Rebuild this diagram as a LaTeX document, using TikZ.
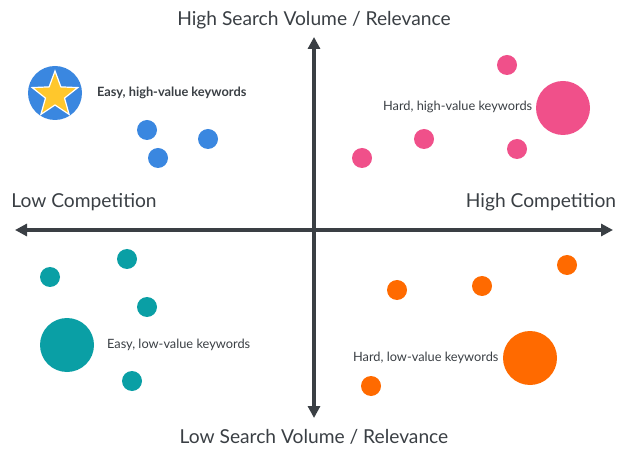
\documentclass[tikz,border=0pt]{standalone}
\usepackage{fontspec}
\setmainfont{Lato}
\usetikzlibrary{arrows.meta,shapes.geometric}
\definecolor{axisgray}{HTML}{3A3F44}
\definecolor{kwblue}{HTML}{3A87E0}
\definecolor{kwpink}{HTML}{F0508A}
\definecolor{kwteal}{HTML}{0A9FA5}
\definecolor{kworange}{HTML}{FF6A00}
\definecolor{kwstar}{HTML}{FFC72C}
\tikzset{
  dot/.style={circle, fill=#1, inner sep=0pt, minimum size=10pt},
  bigdot/.style={circle, fill=#1, inner sep=0pt, minimum size=27pt},
  axislbl/.style={font=\fontsize{9.6}{11}\selectfont, text=axisgray},
  kwlbl/.style={font=\fontsize{6.4}{7}\selectfont, text=axisgray, anchor=west},
  axis/.style={line width=1.6pt, draw=axisgray, {Triangle[length=6pt,width=6pt]}-{Triangle[length=6pt,width=6pt]}}
}
\begin{document}
\begin{tikzpicture}[x=0.5pt,y=-0.5pt]
				\useasboundingbox (0,0) rectangle (640,453);
				
				\coordinate (west) at (15,230);
				\coordinate (east) at (613,230);
				\coordinate (north) at (314,37);
				\coordinate (south) at (314,418);
				\draw[axis] (west) -- (east);
				\draw[axis] (north) -- (south);
				
				\node[axislbl] (lblTop) at (314,20) {High Search Volume / Relevance};
				\node[axislbl] (lblBot) at (314,437) {Low Search Volume / Relevance};
				\node[axislbl] (lblLow) at (84,202) {Low Competition};
				\node[axislbl] (lblHigh) at (541,202) {High Competition};
				
				% easy, high-value
				\node[bigdot=kwblue] (blueBig) at (55,93) {};
				\node[star, star points=5, star point ratio=2.4, fill=kwstar, draw=white, line width=0.6pt, inner sep=0pt, minimum size=24pt] (star) at (55,95) {};
				\node[dot=kwblue] (blueA) at (147,130) {};
				\node[dot=kwblue] (blueB) at (208,139) {};
				\node[dot=kwblue] (blueC) at (158,158) {};
				\node[kwlbl, font=\fontsize{6.4}{7}\selectfont\bfseries] (lblEasyHigh) at (90,93) {Easy, high-value keywords};
				
				% hard, high-value
				\node[dot=kwpink] (pinkA) at (507,65) {};
				\node[bigdot=kwpink] (pinkBig) at (563,108) {};
				\node[dot=kwpink] (pinkB) at (424,139) {};
				\node[dot=kwpink] (pinkC) at (517,149) {};
				\node[dot=kwpink] (pinkD) at (362,158) {};
				\node[kwlbl] (lblHardHigh) at (376,107) {Hard, high-value keywords};
				
				% easy, low-value
				\node[dot=kwteal] (tealA) at (127,259) {};
				\node[dot=kwteal] (tealB) at (50,277) {};
				\node[dot=kwteal] (tealC) at (147,307) {};
				\node[bigdot=kwteal] (tealBig) at (67,345) {};
				\node[dot=kwteal] (tealD) at (132,381) {};
				\node[kwlbl] (lblEasyLow) at (100,345) {Easy, low-value keywords};
				
				% hard, low-value
				\node[dot=kworange] (orangeA) at (567,265) {};
				\node[dot=kworange] (orangeB) at (482,286) {};
				\node[dot=kworange] (orangeC) at (397,290) {};
				\node[bigdot=kworange] (orangeBig) at (530,358) {};
				\node[dot=kworange] (orangeD) at (371,386) {};
				\node[kwlbl] (lblHardLow) at (346,358) {Hard, low-value keywords};
				
\end{tikzpicture}
\end{document}
